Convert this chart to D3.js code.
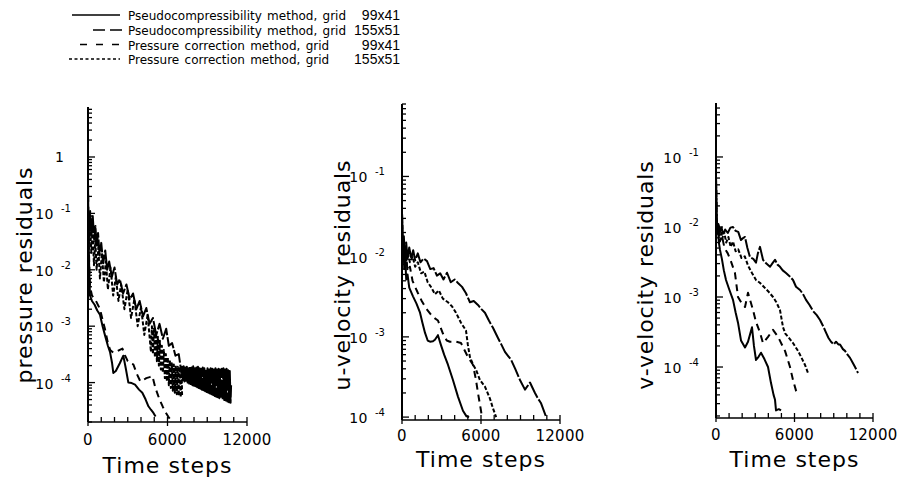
<!DOCTYPE html>
<html>
<head>
<meta charset="utf-8">
<script src="https://cdnjs.cloudflare.com/ajax/libs/d3/7.8.5/d3.min.js"></script>
<style>
  html, body { margin: 0; padding: 0; background: #fff; }
  svg { display: block; }
</style>
</head>
<body>
<svg id="chart" width="903" height="477"></svg>
<script>
// ---- Convergence histories: [time step, residual] ----

// Pressure residuals
const pressurePseudo99 = [[0,0.35],[30,0.08],[60,0.025],[100,0.008],[150,0.0035],[300,0.0028],[500,0.0024],[700,0.0019],[905,0.0016],[1100,0.001],[1290,0.00068],[1500,0.00045],[1660,0.00035],[1820,0.00022],[1910,0.000148],[2100,0.00016],[2400,0.00022],[2665,0.0003],[2850,0.00018],[3045,0.0001],[3300,0.000098],[3550,0.000092],[3850,0.000075],[4100,0.000066],[4350,0.00005],[4560,0.000038],[4750,0.000033],[4940,0.000029],[5100,0.000025]];
const pressurePseudo155 = [[0,0.1],[80,0.05],[160,0.11],[260,0.04],[360,0.09],[460,0.035],[560,0.06],[660,0.025],[760,0.045],[880,0.018],[1000,0.03],[1150,0.013],[1300,0.022],[1450,0.01],[1600,0.014],[1800,0.0075],[2000,0.011],[2200,0.0055],[2400,0.0068],[2650,0.0038],[2900,0.0055],[3150,0.003],[3400,0.0038],[3650,0.002],[3900,0.0028],[4150,0.0015],[4400,0.0021],[4650,0.0011],[4900,0.0014],[5150,0.0007],[5400,0.0011],[5650,0.0006],[5900,0.0009],[6100,0.00045],[6350,0.0005],[6600,0.0003],[6850,0.00032],[7050,0.00015],
  [7100,0.00019],[7160,0.00011],[7220,0.000195],[7280,0.000105],[7340,0.000185],[7400,0.000108],[7460,0.00019],[7520,0.0001],[7580,0.00018],[7640,0.000096],[7700,0.00019],[7760,0.000094],[7820,0.000185],[7880,0.00009],[7940,0.000195],[8000,0.000088],[8060,0.00018],[8120,0.000086],[8180,0.000185],[8240,0.000083],[8300,0.00019],[8360,0.00008],[8420,0.00018],[8480,0.000078],[8540,0.000175],[8600,0.000075],[8660,0.000185],[8720,0.000073],[8780,0.00018],[8840,0.00007],[8900,0.000175],[8960,0.000068],[9020,0.00018],[9080,0.000066],[9140,0.00017],[9200,0.000064],[9260,0.00018],[9320,0.000062],[9380,0.000175],[9440,0.00006],[9500,0.00017],[9560,0.000058],[9620,0.00018],[9680,0.000056],[9740,0.00017],[9800,0.000055],[9860,0.000175],[9920,0.000053],[9980,0.00017],[10040,0.000052],[10100,0.000175],[10160,0.00005],[10220,0.00018],[10280,0.000049],[10340,0.00017],[10400,0.000048],[10460,0.000175],[10520,0.000046],[10580,0.000165],[10640,0.000045],[10700,0.00016],[10760,0.000044],[10800,0.00009]];
const pressureCorr99 = [[0,0.35],[30,0.09],[60,0.03],[100,0.011],[150,0.005],[300,0.0035],[600,0.0028],[910,0.002],[1100,0.0013],[1290,0.00087],[1500,0.0005],[1670,0.00038],[1900,0.00034],[2130,0.00035],[2400,0.00038],[2600,0.0004],[2800,0.0003],[3000,0.00024],[3200,0.00022],[3420,0.00021],[3700,0.00014],[3950,0.000105],[4150,0.00011],[4400,0.00012],[4650,0.000125],[4860,0.00013],[5090,0.00008],[5300,0.000058],[5470,0.000046],[5650,0.000037],[5850,0.00003],[6050,0.000025],[6230,0.000022]];
const pressureCorr155 = [[0,0.08],[60,0.03],[150,0.07],[250,0.02],[350,0.05],[450,0.012],[550,0.035],[650,0.01],[780,0.025],[900,0.007],[1050,0.02],[1200,0.006],[1350,0.014],[1500,0.0045],[1700,0.011],[1900,0.0035],[2100,0.0075],[2300,0.0028],[2500,0.0055],[2750,0.002],[3000,0.0045],[3250,0.0014],[3500,0.003],[3750,0.001],[4000,0.0022],[4250,0.0007],[4500,0.0016],
  [4750,0.00035],[4825,0.001],[4900,0.00032],[4975,0.0009],[5050,0.00028],[5125,0.00075],[5200,0.00024],[5275,0.00065],[5350,0.0002],[5425,0.00055],[5500,0.00017],[5575,0.00045],[5650,0.00015],[5725,0.00038],[5800,0.00012],[5875,0.00032],[5950,0.000105],[6025,0.00028],[6100,0.00009],[6175,0.00025],[6250,0.00008],[6325,0.00022],[6400,0.000072],[6475,0.00021],[6550,0.000066],[6625,0.0002],[6700,0.000062],[6775,0.00019],[6850,0.000058],[6925,0.00019],[7000,0.000055],[7075,0.00015],[7100,0.00006]];

// u-velocity residuals
const uPseudo99 = [[0,0.035],[50,0.012],[110,0.016],[170,0.007],[240,0.01],[320,0.0052],[420,0.006],[550,0.0041],[835,0.0032],[1100,0.0026],[1370,0.002],[1550,0.0015],[1750,0.00112],[1950,0.0009],[2130,0.00087],[2350,0.00088],[2500,0.00092],[2730,0.00105],[2960,0.00079],[3200,0.0006],[3490,0.00045],[3870,0.00029],[4250,0.00018],[4630,0.00012],[4900,0.000102],[5100,0.0001]];
const uPseudo155 = [[0,0.035],[60,0.013],[140,0.018],[220,0.01],[320,0.015],[420,0.0095],[550,0.013],[700,0.0095],[850,0.012],[1000,0.009],[1200,0.011],[1400,0.0085],[1650,0.0095],[1900,0.0088],[2150,0.007],[2400,0.0072],[2650,0.0058],[2900,0.0062],[3150,0.0052],[3420,0.0063],[3700,0.0048],[4000,0.0052],[4250,0.0047],[4560,0.0042],[4860,0.0035],[5160,0.0027],[5450,0.0028],[5770,0.0025],[6050,0.0022],[6300,0.002],[6600,0.0016],[6910,0.0013],[7290,0.00097],[7550,0.0008],[7820,0.00065],[8050,0.00058],[8280,0.00052],[8600,0.0004],[8960,0.00029],[9340,0.00022],[9720,0.00027],[10100,0.0002],[10330,0.00017],[10550,0.00015],[10860,0.00011],[10950,0.0001]];
const uCorr99 = [[0,0.035],[60,0.01],[130,0.014],[200,0.008],[300,0.011],[420,0.0065],[600,0.0075],[800,0.005],[1000,0.0042],[1215,0.0035],[1500,0.0028],[1800,0.0023],[2200,0.0019],[2500,0.0017],[2730,0.0016],[3110,0.0011],[3400,0.0009],[3640,0.00087],[4100,0.00087],[4480,0.00084],[5010,0.00056],[5390,0.00045],[5620,0.00029],[5770,0.0002],[6000,0.00012],[6070,0.0001]];
const uCorr155 = [[0,0.035],[50,0.011],[120,0.016],[190,0.009],[270,0.013],[350,0.008],[450,0.011],[600,0.0085],[800,0.01],[1000,0.0075],[1200,0.0085],[1450,0.0062],[1700,0.0065],[1950,0.0048],[2200,0.0042],[2500,0.0034],[2800,0.0038],[3100,0.003],[3490,0.0027],[3800,0.0024],[4100,0.002],[4480,0.0015],[4860,0.0012],[5000,0.0008],[5160,0.00056],[5400,0.00045],[5620,0.00039],[5920,0.00029],[6300,0.00024],[6680,0.00017],[6900,0.00013],[7060,0.00011],[7150,0.0001]];

// v-velocity residuals
const vPseudo99 = [[0,0.05],[40,0.014],[90,0.008],[150,0.0095],[220,0.006],[305,0.0047],[450,0.0035],[600,0.0024],[765,0.00175],[1000,0.0013],[1300,0.00091],[1500,0.0006],[1682,0.00043],[1911,0.00024],[2217,0.00019],[2446,0.00023],[2752,0.00037],[2900,0.0002],[3058,0.000126],[3250,0.00014],[3440,0.00016],[3700,0.00013],[3976,0.0001],[4205,0.000059],[4400,0.00004],[4511,0.000034],[4587,0.000024],[4800,0.000025],[4970,0.000024]];
const vPseudo155 = [[0,0.05],[50,0.014],[120,0.009],[200,0.011],[300,0.0085],[420,0.0098],[560,0.0078],[700,0.0092],[900,0.0082],[1100,0.0098],[1300,0.01],[1500,0.0088],[1700,0.0085],[1911,0.0065],[2100,0.007],[2217,0.0072],[2400,0.005],[2600,0.0037],[2850,0.0035],[3058,0.0031],[3200,0.0042],[3364,0.0052],[3593,0.0034],[3850,0.003],[4130,0.0027],[4350,0.0031],[4511,0.0034],[4700,0.0029],[4893,0.0027],[5100,0.0024],[5350,0.0022],[5600,0.002],[5887,0.00175],[6116,0.0014],[6422,0.00126],[6650,0.0011],[6881,0.00091],[7150,0.00077],[7416,0.00063],[7700,0.00055],[7951,0.00047],[8200,0.00038],[8410,0.00031],[8600,0.00026],[8792,0.00023],[9000,0.00021],[9174,0.00023],[9350,0.00021],[9480,0.00021],[9700,0.00018],[9862,0.00017],[10050,0.00015],[10245,0.000135],[10450,0.000115],[10627,0.0001],[10856,0.000082]];
const vCorr99 = [[0,0.05],[50,0.012],[120,0.0075],[200,0.009],[300,0.0062],[450,0.0075],[650,0.005],[900,0.0042],[1150,0.0032],[1450,0.0022],[1682,0.001],[1950,0.00082],[2217,0.00072],[2446,0.00115],[2829,0.00065],[3058,0.00044],[3364,0.00031],[3593,0.00022],[3976,0.00027],[4358,0.00034],[4740,0.00027],[5275,0.00017],[5657,0.0001],[5887,0.000065],[6116,0.000046],[6346,0.00004]];
const vCorr155 = [[0,0.05],[45,0.013],[110,0.0085],[180,0.011],[260,0.0075],[350,0.0095],[480,0.0068],[620,0.0085],[780,0.006],[950,0.0072],[1120,0.0052],[1300,0.0062],[1500,0.0045],[1700,0.0048],[1950,0.0036],[2200,0.0038],[2450,0.0028],[2750,0.0022],[3058,0.00175],[3350,0.0016],[3650,0.0014],[4000,0.0012],[4358,0.001],[4600,0.00085],[4893,0.00065],[5122,0.00037],[5300,0.0003],[5505,0.00027],[5887,0.00022],[6269,0.00017],[6498,0.00014],[6804,0.000107],[7034,0.000082]];

// Legend text and axis labelling
const legendMethods = ["Pseudocompressibility method, grid", "Pseudocompressibility method, grid", "Pressure correction method, grid", "Pressure correction method, grid"];
const legendGrids = ["99x41", "155x51", "99x41", "155x51"];
const stepLabels = [0, 6000, 12000];
const stepTickEvery = 1000;
const pressureExponents = [0, -1, -2, -3, -4];
const velocityExponents = [-1, -2, -3, -4];
const axisTitles = ["pressure residuals", "u-velocity residuals", "v-velocity residuals"];

// ---- Drawing ----
const svg = d3.select("#chart");
const FONT = "'DejaVu Sans', sans-serif";
const GRID_FONT = "'Liberation Sans', Arial, sans-serif";
const dashes = [null, "18,2", "7,5", "4,2"];
const widths = [2, 2, 2, 2];

// Layout for the three panels
const panels = [
  { title: axisTitles[0], exps: pressureExponents, series: [pressurePseudo99, pressurePseudo155, pressureCorr99, pressureCorr155],
    x0: 88, x1: 247, yTop: 107, yBottom: 422, vMin: 2e-5, vMax: 7.7, titleX: 32, stepsY: 473, tickLabelY: 445 },
  { title: axisTitles[1], exps: velocityExponents, series: [uPseudo99, uPseudo155, uCorr99, uCorr155],
    x0: 402, x1: 560, yTop: 104, yBottom: 420, vMin: 9.2e-5, vMax: 0.8, titleX: 350, stepsY: 467, tickLabelY: 441 },
  { title: axisTitles[2], exps: velocityExponents, series: [vPseudo99, vPseudo155, vCorr99, vCorr155],
    x0: 716, x1: 873, yTop: 103, yBottom: 418, vMin: 1.87e-5, vMax: 0.59, titleX: 653, stepsY: 467, tickLabelY: 440 }
];

panels.forEach(p => {
  const x = d3.scaleLinear().domain([0, 12000]).range([p.x0, p.x1]);
  const y = d3.scaleLog().domain([p.vMin, p.vMax]).range([p.yBottom, p.yTop]);
  const g = svg.append("g");

  // residual curves
  const line = d3.line().x(d => x(d[0])).y(d => y(d[1]));
  p.series.forEach((s, i) => {
    g.append("path")
      .attr("d", line(s))
      .attr("fill", "none")
      .attr("stroke", "#000")
      .attr("stroke-width", widths[i])
      .attr("stroke-linejoin", "round")
      .attr("stroke-dasharray", dashes[i]);
  });

  // vertical axis with logarithmic ticks
  g.append("line")
    .attr("x1", x(0)).attr("x2", x(0))
    .attr("y1", y(p.vMin)).attr("y2", y(p.vMax))
    .attr("stroke", "#000").attr("stroke-width", 2);
  y.ticks().forEach(v => {
    const mant = Math.round(v / Math.pow(10, Math.floor(Math.log10(v) + 1e-9)));
    const major = mant === 1;
    g.append("line")
      .attr("x1", x(0)).attr("x2", x(0) + (major ? 7 : 4))
      .attr("y1", y(v)).attr("y2", y(v))
      .attr("stroke", "#000").attr("stroke-width", 1.3);
  });

  // decade labels
  p.exps.forEach(e => {
    const ty = y(Math.pow(10, e));
    if (e === 0) {
      g.append("text").attr("x", x(0) - 24).attr("y", ty + 5)
        .attr("text-anchor", "end").attr("font-family", FONT).attr("font-size", 14)
        .text("1");
    } else {
      g.append("text").attr("x", x(0) - 34).attr("y", ty + 6)
        .attr("text-anchor", "end").attr("font-family", FONT).attr("font-size", 14)
        .attr("letter-spacing", 0.5)
        .text("10");
      g.append("text").attr("x", x(0) - 27).attr("y", ty - 1)
        .attr("text-anchor", "start").attr("font-family", FONT).attr("font-size", 10)
        .text("-" + (-e));
    }
  });

  // horizontal axis
  g.append("line")
    .attr("x1", x(0)).attr("x2", x(12000))
    .attr("y1", p.yBottom).attr("y2", p.yBottom)
    .attr("stroke", "#000").attr("stroke-width", 1.6);
  d3.range(0, 12001, stepTickEvery).forEach(t => {
    const major = stepLabels.includes(t);
    g.append("line")
      .attr("x1", x(t)).attr("x2", x(t))
      .attr("y1", p.yBottom - 5).attr("y2", p.yBottom + (major ? 4 : 0))
      .attr("stroke", "#000").attr("stroke-width", 1.3);
  });
  stepLabels.forEach(t => {
    g.append("text").attr("x", x(t)).attr("y", p.tickLabelY)
      .attr("text-anchor", "middle").attr("font-family", FONT).attr("font-size", 15)
      .attr("letter-spacing", 0.3)
      .text(t);
  });

  // axis titles
  g.append("text")
    .attr("transform", `translate(${p.titleX},275) rotate(-90)`)
    .attr("text-anchor", "middle").attr("font-family", FONT).attr("font-size", 22)
    .attr("letter-spacing", 0.9)
    .text(p.title);
  g.append("text")
    .attr("x", (x(0) + x(12000)) / 2).attr("y", p.stepsY)
    .attr("text-anchor", "middle").attr("font-family", FONT).attr("font-size", 22)
    .attr("letter-spacing", 1)
    .text("Time steps");
});

// ---- Legend ----
const legendRows = [20, 35, 49.5, 64];
const legendSamples = [[72, 120, null], [93, 122, "12,5"], [80, 119, "7,9"], [69, 120, "3,2.5"]];
legendRows.forEach((by, i) => {
  const [sx0, sx1, dash] = legendSamples[i];
  svg.append("line")
    .attr("x1", sx0).attr("x2", sx1).attr("y1", by - 5).attr("y2", by - 5)
    .attr("stroke", "#000").attr("stroke-width", 1.6)
    .attr("stroke-dasharray", dash);
  svg.append("text").attr("x", 128).attr("y", by)
    .attr("font-family", FONT).attr("font-size", 12)
    .attr("word-spacing", 1.5)
    .text(legendMethods[i]);
  svg.append("text").attr("x", 400).attr("y", by).attr("text-anchor", "end")
    .attr("font-family", GRID_FONT).attr("font-size", 14)
    .text(legendGrids[i]);
});
</script>
</body>
</html>
